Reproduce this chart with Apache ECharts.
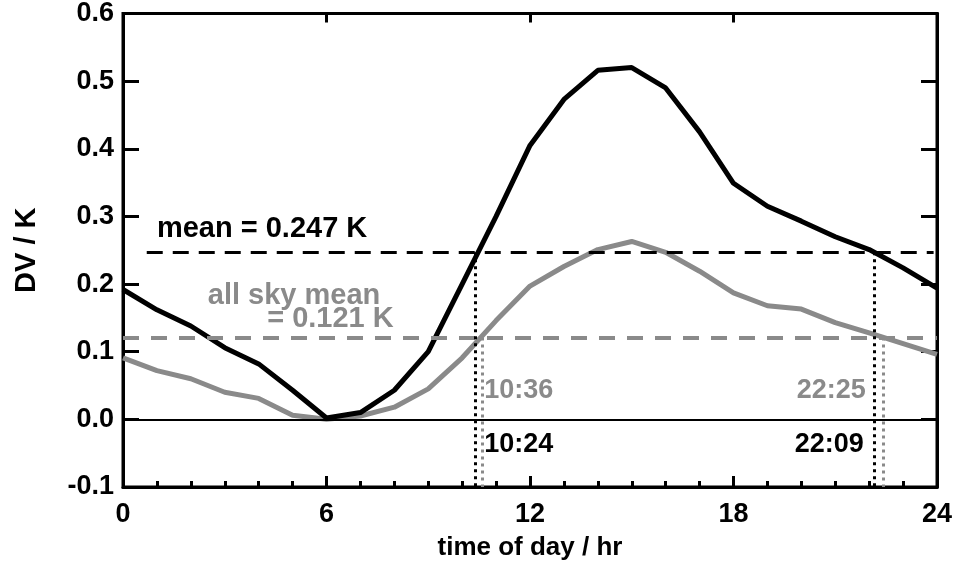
<!DOCTYPE html>
<html>
<head>
<meta charset="utf-8">
<script src="https://cdn.jsdelivr.net/npm/echarts@6/dist/echarts.min.js"></script>
<style>
  html, body { margin: 0; padding: 0; background: #fff; }
  #chart { width: 962px; height: 570px; }
</style>
</head>
<body>
<div id="chart"></div>
<script>
// hour of day, 0..24
const hours = [0, 1, 2, 3, 4, 5, 6, 7, 8, 9, 10, 11, 12, 13, 14, 15, 16, 17, 18, 19, 20, 21, 22, 23, 24]
// DV per hour (K)
const dvBlack = [0.192, 0.162, 0.138, 0.106, 0.082, 0.043, 0.002, 0.010, 0.043, 0.100, 0.200, 0.300, 0.405, 0.473, 0.516, 0.520, 0.490, 0.425, 0.349, 0.315, 0.293, 0.270, 0.251, 0.224, 0.194]
const dvGray = [0.091, 0.072, 0.060, 0.040, 0.031, 0.006, 0.000, 0.005, 0.018, 0.045, 0.091, 0.146, 0.197, 0.226, 0.251, 0.263, 0.247, 0.219, 0.187, 0.168, 0.163, 0.143, 0.128, 0.112, 0.096]
const meanBlack = 0.247
const meanGray = 0.121
const crossBlack = [10.4, 22.15]        // 10:24, 22:09
const crossGray = [10.6, 22.4167]       // 10:36, 22:25
const crossLabelsBlack = ['10:24', '22:09']
const crossLabelsGray = ['10:36', '22:25']

const GRAY = '#8a8a8a'
const FONT = "'Liberation Sans', Arial, sans-serif"

const chart = echarts.init(document.getElementById('chart'))

function pts(vals) {
  return hours.map((h, i) => [h, vals[i]])
}

function txt(coord, text, color, align, size) {
  return {
    coord,
    value: text,
    symbol: 'circle',
    symbolSize: 0,
    label: {
      show: true,
      position: 'inside',
      align,
      verticalAlign: 'middle',
      formatter: text,
      color,
      fontFamily: FONT,
      fontWeight: 'bold',
      fontSize: size
    }
  }
}

const tickLabel = {
  color: '#000',
  fontFamily: FONT,
  fontWeight: 'bold',
  fontSize: 27
}

chart.setOption({
  animation: false,
  grid: { left: 123, right: 25, top: 12, bottom: 83, show: true, borderColor: '#000', borderWidth: 3 },
  xAxis: [{
    type: 'value', min: 0, max: 24, interval: 6,
    name: 'time of day / hr', nameLocation: 'middle', nameGap: 48,
    nameTextStyle: { color: '#000', fontFamily: FONT, fontWeight: 'bold', fontSize: 26 },
    axisLine: { show: true, onZero: false, lineStyle: { color: '#000', width: 3 } },
    axisTick: { show: true, inside: true, length: 11, lineStyle: { color: '#000', width: 3 } },
    minorTick: { show: true, splitNumber: 6, length: 6, lineStyle: { color: '#000', width: 3 } },
    axisLabel: { ...tickLabel, margin: 14 },
    splitLine: { show: false }
  }, {
    type: 'value', min: 0, max: 24, interval: 6, position: 'top',
    axisLine: { show: false, onZero: false },
    axisTick: { show: true, inside: true, length: 9, lineStyle: { color: '#000', width: 3 } },
    axisLabel: { show: false },
    splitLine: { show: false }
  }],
  yAxis: [{
    type: 'value', min: -0.1, max: 0.6, interval: 0.1,
    name: 'DV / K', nameLocation: 'middle', nameGap: 82, nameRotate: 90,
    nameTextStyle: { color: '#000', fontFamily: FONT, fontWeight: 'bold', fontSize: 29 },
    axisLine: { show: true, onZero: false, lineStyle: { color: '#000', width: 3 } },
    axisTick: { show: true, inside: true, length: 16, lineStyle: { color: '#000', width: 3 } },
    axisLabel: { ...tickLabel, margin: 9, formatter: v => v.toFixed(1) },
    splitLine: { show: false }
  }, {
    type: 'value', min: -0.1, max: 0.6, interval: 0.1, position: 'right',
    axisLine: { show: true, onZero: false, lineStyle: { color: '#000', width: 3 } },
    axisTick: { show: true, inside: true, length: 16, lineStyle: { color: '#000', width: 3 } },
    axisLabel: { show: false },
    splitLine: { show: false }
  }],
  series: [{
    name: 'all sky',
    type: 'line',
    data: pts(dvGray),
    symbol: 'none',
    lineStyle: { color: GRAY, width: 5 },
    z: 3,
    markLine: {
      silent: true, symbol: 'none', label: { show: false },
      data: [
        [{ coord: [0, meanGray], lineStyle: { color: GRAY, width: 4, type: [16, 12] } }, { coord: [24, meanGray] }],
        ...crossGray.map(t => [
          { coord: [t, meanGray], lineStyle: { color: GRAY, width: 3, type: [3, 4] } },
          { coord: [t, -0.1] }
        ])
      ]
    },
    markPoint: {
      silent: true,
      data: [
        txt([2.5, 0.182], 'all sky mean', GRAY, 'left', 29),
        txt([4.25, 0.148], '= 0.121 K', GRAY, 'left', 29),
        txt([10.65, 0.043], crossLabelsGray[0], GRAY, 'left', 27),
        txt([21.9, 0.043], crossLabelsGray[1], GRAY, 'right', 27)
      ]
    }
  }, {
    name: 'clear',
    type: 'line',
    data: pts(dvBlack),
    symbol: 'none',
    lineStyle: { color: '#000', width: 5 },
    z: 4,
    markLine: {
      silent: true, symbol: 'none', label: { show: false },
      data: [
        [{ coord: [0, 0], lineStyle: { color: '#000', width: 2, type: 'solid' } }, { coord: [24, 0] }],
        [{ coord: [0.7, meanBlack], lineStyle: { color: '#000', width: 3, type: [16, 10] } }, { coord: [23.9, meanBlack] }],
        ...crossBlack.map(t => [
          { coord: [t, meanBlack], lineStyle: { color: '#000', width: 3, type: [3, 4] } },
          { coord: [t, -0.1] }
        ])
      ]
    },
    markPoint: {
      silent: true,
      data: [
        txt([1.0, 0.281], 'mean = 0.247 K', '#000', 'left', 29),
        txt([10.65, -0.037], crossLabelsBlack[0], '#000', 'left', 27),
        txt([21.84, -0.037], crossLabelsBlack[1], '#000', 'right', 27)
      ]
    }
  }]
})
</script>
</body>
</html>
